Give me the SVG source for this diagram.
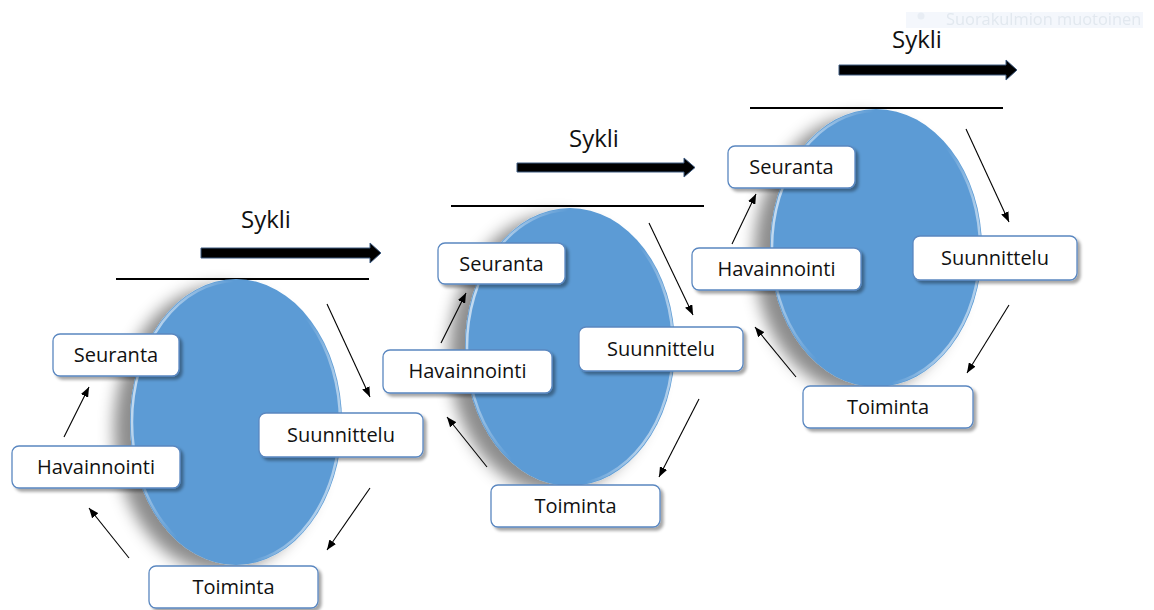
<svg xmlns="http://www.w3.org/2000/svg" width="1154" height="610" viewBox="0 0 1154 610">
<style>
.box{fill:#fff;stroke:#5a87c0;stroke-width:1.3;filter:url(#bshadow)}
.lbl{font-family:"Open Sans","Noto Sans",sans-serif;font-size:20px;fill:#111;text-anchor:middle}
.sykli{font-family:"Open Sans","Noto Sans",sans-serif;font-size:24px;fill:#111}
.ell{fill:#5b9bd5;filter:url(#eshadow)}
.rim{fill:none;stroke:url(#rimg);stroke-width:2.5}
.bar{stroke:#000;stroke-width:2}
.big{fill:#000;stroke:#3d5a80;stroke-width:1}
.con{stroke:#000;stroke-width:1.1;fill:none;marker-end:url(#ah)}
</style>
<defs>
<filter id="eshadow" x="-40%" y="-20%" width="170%" height="140%">
<feGaussianBlur in="SourceAlpha" stdDeviation="8"/>
<feOffset dx="-16" dy="7" result="b"/>
<feFlood flood-color="#000" flood-opacity="0.45"/>
<feComposite in2="b" operator="in"/>
<feMerge><feMergeNode/><feMergeNode in="SourceGraphic"/></feMerge>
</filter>
<filter id="bshadow" x="-10%" y="-20%" width="125%" height="150%">
<feGaussianBlur in="SourceAlpha" stdDeviation="1.5"/>
<feOffset dx="2.5" dy="2.5" result="b"/>
<feFlood flood-color="#000" flood-opacity="0.35"/>
<feComposite in2="b" operator="in"/>
<feMerge><feMergeNode/><feMergeNode in="SourceGraphic"/></feMerge>
</filter>
<linearGradient id="rimg" x1="0" y1="0" x2="1" y2="0.3">
<stop offset="0" stop-color="#ffffff" stop-opacity="0.85"/>
<stop offset="0.45" stop-color="#ffffff" stop-opacity="0"/>
<stop offset="0.8" stop-color="#ffffff" stop-opacity="0"/>
<stop offset="1" stop-color="#ffffff" stop-opacity="0.5"/>
</linearGradient>
<marker id="ah" markerUnits="userSpaceOnUse" markerWidth="11" markerHeight="8" refX="10" refY="4" orient="auto">
<path d="M0,0 L10,4 L0,8 z" fill="#000"/>
</marker>
</defs>
<rect width="1154" height="610" fill="#fff"/>

<g id="ghost" opacity="0.9">
<rect x="906" y="12" width="237" height="16" fill="#f3f7fc"/>
<circle cx="921" cy="16" r="3.5" fill="#e6ecf3"/>
<text x="946" y="25" font-family="Open Sans, Noto Sans, sans-serif" font-size="16.4" fill="#dfe6ee">Suorakulmion muotoinen</text>
</g>

<g id="cycle1-header">
<text class="sykli" x="241" y="228">Sykli</text>
<polygon class="big" points="201,248 370,248 370,243 381,253 370,263 370,258 201,258"/>
<line class="bar" x1="116" y1="279" x2="369" y2="279"/>
</g>
<g id="cycle2-header">
<text class="sykli" x="569" y="147">Sykli</text>
<polygon class="big" points="517,163 684,163 684,158 695,167.5 684,177 684,172 517,172"/>
<line class="bar" x1="451" y1="206" x2="704" y2="206"/>
</g>
<g id="cycle3-header">
<text class="sykli" x="892" y="48">Sykli</text>
<polygon class="big" points="839,65 1006,65 1006,60 1017,70 1006,80 1006,75 839,75"/>
<line class="bar" x1="750" y1="108" x2="1003" y2="108"/>
</g>

<g id="ellipse1"><ellipse class="ell" cx="236" cy="422" rx="106" ry="143"/><ellipse class="rim" cx="236" cy="422" rx="104" ry="141"/></g>
<g id="ellipse2"><ellipse class="ell" cx="570" cy="347" rx="105" ry="139"/><ellipse class="rim" cx="570" cy="347" rx="103" ry="137"/></g>
<g id="ellipse3"><ellipse class="ell" cx="876" cy="248" rx="106" ry="139"/><ellipse class="rim" cx="876" cy="248" rx="104" ry="137"/></g>

<g id="c1-seuranta"><rect class="box" x="53" y="334" width="126" height="42" rx="7"/><text class="lbl" x="116" y="362">Seuranta</text></g>
<g id="c1-havainnointi"><rect class="box" x="12" y="446" width="168" height="42" rx="7"/><text class="lbl" x="96" y="474">Havainnointi</text></g>
<g id="c1-suunnittelu"><rect class="box" x="259" y="413" width="164" height="44" rx="7"/><text class="lbl" x="341" y="442">Suunnittelu</text></g>
<g id="c1-toiminta"><rect class="box" x="149" y="566" width="169" height="42" rx="7"/><text class="lbl" x="233.5" y="594">Toiminta</text></g>

<g id="c2-seuranta"><rect class="box" x="438" y="243" width="127" height="41" rx="7"/><text class="lbl" x="501.5" y="271">Seuranta</text></g>
<g id="c2-havainnointi"><rect class="box" x="383" y="350" width="169" height="43" rx="7"/><text class="lbl" x="467.5" y="378">Havainnointi</text></g>
<g id="c2-suunnittelu"><rect class="box" x="579" y="327" width="164" height="44" rx="7"/><text class="lbl" x="661" y="356">Suunnittelu</text></g>
<g id="c2-toiminta"><rect class="box" x="491" y="485" width="169" height="42" rx="7"/><text class="lbl" x="575.5" y="513">Toiminta</text></g>

<g id="c3-seuranta"><rect class="box" x="728" y="146" width="127" height="42" rx="7"/><text class="lbl" x="791.5" y="174">Seuranta</text></g>
<g id="c3-havainnointi"><rect class="box" x="692" y="248" width="169" height="42" rx="7"/><text class="lbl" x="776.5" y="276">Havainnointi</text></g>
<g id="c3-suunnittelu"><rect class="box" x="913" y="236" width="164" height="44" rx="7"/><text class="lbl" x="995" y="265">Suunnittelu</text></g>
<g id="c3-toiminta"><rect class="box" x="803" y="386" width="170" height="42" rx="7"/><text class="lbl" x="888" y="414">Toiminta</text></g>

<g id="connectors">
<line class="con" x1="64" y1="437" x2="89" y2="387"/>
<line class="con" x1="327" y1="304" x2="370" y2="397"/>
<line class="con" x1="370" y1="488" x2="327" y2="550"/>
<line class="con" x1="129" y1="558" x2="89" y2="508"/>

<line class="con" x1="441" y1="343" x2="466" y2="293"/>
<line class="con" x1="649" y1="223" x2="693" y2="315"/>
<line class="con" x1="699" y1="399" x2="659" y2="477"/>
<line class="con" x1="487" y1="467" x2="447" y2="417"/>

<line class="con" x1="732" y1="244" x2="756" y2="194"/>
<line class="con" x1="966" y1="129" x2="1009" y2="222"/>
<line class="con" x1="1009" y1="305" x2="967" y2="373"/>
<line class="con" x1="796" y1="377" x2="755" y2="327"/>
</g>
</svg>
